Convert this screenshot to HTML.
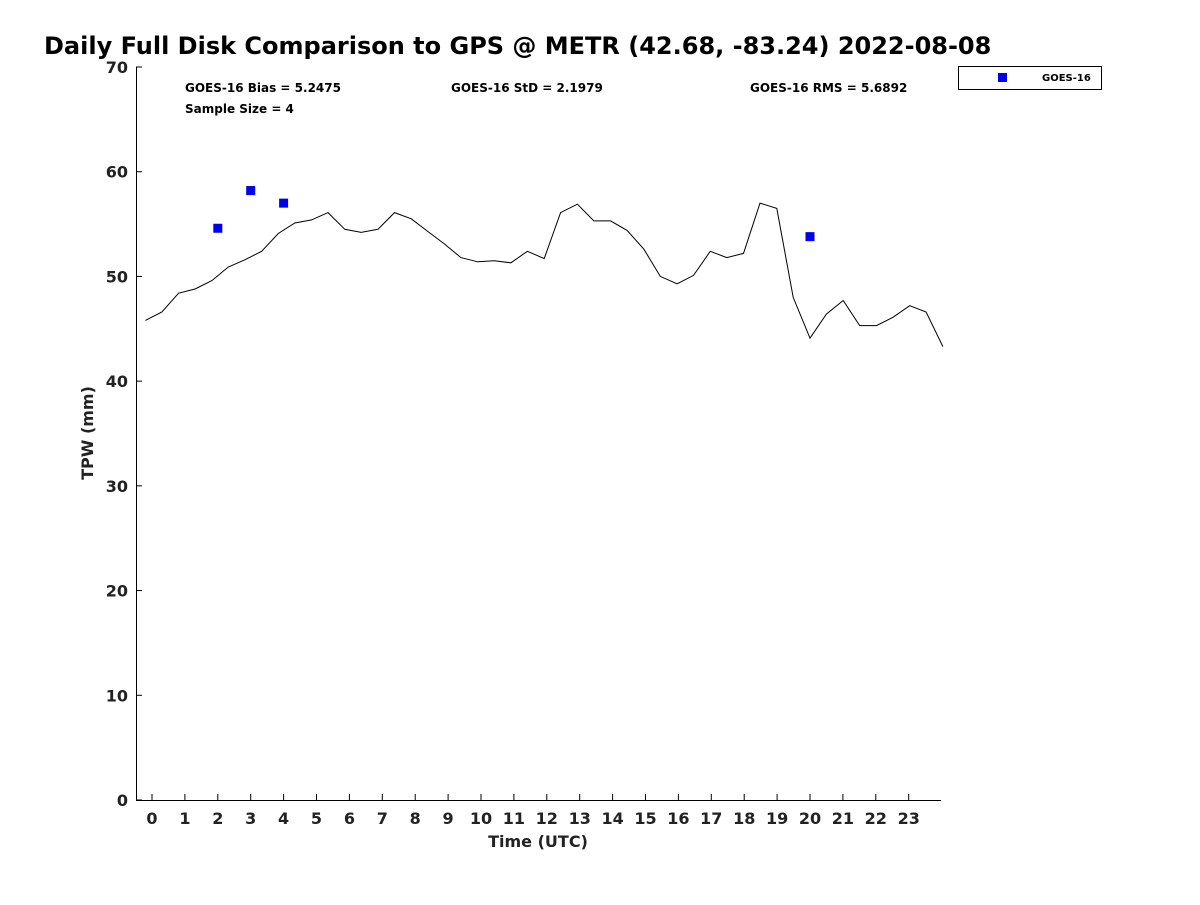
<!DOCTYPE html>
<html><head><meta charset="utf-8"><style>
body{margin:0;background:#fff}
svg text{font-family:"DejaVu Sans","Liberation Sans",sans-serif;font-weight:bold;fill:#222}
</style></head><body>
<svg id="c" width="1200" height="900" xmlns="http://www.w3.org/2000/svg">
<text x="44" y="54" font-size="24" style="fill:#000">Daily Full Disk Comparison to GPS @ METR (42.68, -83.24) 2022-08-08</text>
<g id="axes"></g>
<text x="185" y="92" font-size="12" style="fill:#000">GOES-16 Bias = 5.2475</text>
<text x="451" y="92" font-size="12" style="fill:#000">GOES-16 StD = 2.1979</text>
<text x="750" y="92" font-size="12" style="fill:#000">GOES-16 RMS = 5.6892</text>
<text x="185" y="113" font-size="12" style="fill:#000">Sample Size = 4</text>
<g>
<rect x="958.5" y="66.5" width="143" height="23" fill="#fff" stroke="#000"/>
<rect x="998" y="73" width="9" height="9" fill="#0000ee"/>
<text x="1042" y="81" font-size="10" style="fill:#000">GOES-16</text>
</g>
</svg>
<script>
const gpsTimes=[-0.2,0.3,0.81,1.31,1.82,2.32,2.83,3.33,3.84,4.34,4.85,5.35,5.86,6.36,6.87,7.37,7.88,8.38,8.89,9.39,9.9,10.4,10.91,11.41,11.92,12.42,12.93,13.43,13.94,14.44,14.95,15.45,15.96,16.46,16.97,17.47,17.98,18.48,18.99,19.49,20.0,20.5,21.01,21.51,22.02,22.52,23.03,23.53,24.04];
const gpsValues=[45.8,46.6,48.4,48.8,49.6,50.9,51.6,52.4,54.1,55.1,55.4,56.1,54.5,54.2,54.5,56.1,55.5,54.3,53.1,51.8,51.4,51.5,51.3,52.4,51.7,56.1,56.9,55.3,55.3,54.4,52.6,50.0,49.3,50.1,52.4,51.8,52.2,57.0,56.5,48.0,44.1,46.4,47.7,45.3,45.3,46.1,47.2,46.6,43.3];
const goesTimes=[2,3,4,20];
const goesValues=[54.6,58.2,57.0,53.8];
const yTicks=[0,10,20,30,40,50,60,70];
const xTicks=[0,1,2,3,4,5,6,7,8,9,10,11,12,13,14,15,16,17,18,19,20,21,22,23];
const L=136,R=941,T=67,B=800;
const xs=t=>152+t*32.9;
const ys=v=>B-(v/70)*(B-T);
const svg=document.getElementById('c');
const g=document.getElementById('axes');
const NS='http://www.w3.org/2000/svg';
function mk(tag,a,p){const e=document.createElementNS(NS,tag);for(const k in a)e.setAttribute(k,a[k]);(p||g).appendChild(e);return e;}
let ax=mk('path',{d:`M${L+.5},${T} V${B+.5} H${R}`,fill:'none',stroke:'#000'});


yTicks.forEach(v=>{const y=ys(v);
 let l=mk('line',{x1:L,x2:L+6,y1:y,y2:y,stroke:'#000'});
 
 
 let t=mk('text',{x:L-8,y:y+6,'text-anchor':'end','font-size':16});t.textContent=v;
 
 });
xTicks.forEach(v=>{const x=xs(v);
 let l=mk('line',{x1:x,x2:x,y1:B,y2:B-6,stroke:'#000'});
 
 
 let t=mk('text',{x:x,y:B+24,'text-anchor':'middle','font-size':16});t.textContent=v;
 
 });
let xt=mk('text',{x:538,y:847,'text-anchor':'middle','font-size':16});xt.textContent='Time (UTC)';


let yt=mk('text',{x:0,y:0,'text-anchor':'middle','font-size':16,transform:'translate(93,433) rotate(-90)'});yt.textContent='TPW (mm)';


let pts=gpsTimes.map((t,i)=>xs(t).toFixed(1)+','+ys(gpsValues[i]).toFixed(1)).join(' ');
let pl=mk('polyline',{points:pts,fill:'none',stroke:'#000','stroke-width':1});


goesTimes.forEach((t,i)=>{let r=mk('rect',{x:xs(t)-4.5,y:ys(goesValues[i])-4.5,width:9,height:9,fill:'#0000ee'});
 
 });
</script>
</body></html>
